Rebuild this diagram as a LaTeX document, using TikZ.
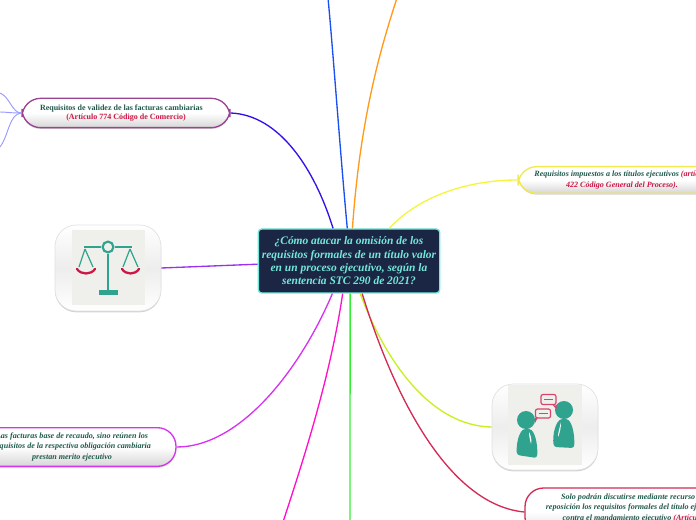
\documentclass[tikz,border=0pt]{standalone}
\usepackage{fontspec}
\setmainfont{Liberation Serif}
\usetikzlibrary{shadows}
\definecolor{rootfill}{HTML}{1B2645}
\definecolor{rootline}{HTML}{74E8DA}
\definecolor{leafgreen}{HTML}{1F5A4C}
\definecolor{leafred}{HTML}{CC1745}
\definecolor{iconteal}{HTML}{2FA38D}
\definecolor{icongrey}{HTML}{EFEFEC}
\definecolor{rimplum}{HTML}{9C4494}
\definecolor{rimyellow}{HTML}{F2E94E}
\definecolor{rimmagenta}{HTML}{D633F0}
\definecolor{rimred}{HTML}{D42A55}
\definecolor{brblue}{HTML}{1A50F0}
\definecolor{brorange}{HTML}{FF9A1A}
\definecolor{brindigo}{HTML}{3311EE}
\definecolor{bryellow}{HTML}{F5F53C}
\definecolor{brviolet}{HTML}{9B30F0}
\definecolor{brpink}{HTML}{FF10CC}
\definecolor{brgreen}{HTML}{33EE33}
\definecolor{brlime}{HTML}{C8F020}
\definecolor{brpale}{HTML}{9A9AFF}
\tikzset{
  pill/.style={draw=#1,line width=1pt,rounded corners=14pt,top color=white,bottom color=black!16,middle color=white,
    drop shadow={shadow xshift=0pt,shadow yshift=-1pt,opacity=0.35},align=center,inner sep=0pt,
    text=leafgreen,font=\bfseries\itshape\fontsize{6.05}{7.9}\selectfont},
  card/.style={draw=black!12,line width=0.5pt,rounded corners=16pt,top color=white,bottom color=white,middle color=black!7,
    drop shadow={shadow xshift=0pt,shadow yshift=-1pt,opacity=0.35},minimum width=79.5pt,minimum height=64.5pt,inner sep=0pt},
  link/.style={line width=1pt}
}
\begin{document}
\begin{tikzpicture}[x=0.75pt,y=-0.75pt]
  \useasboundingbox (0,0) rectangle (696,520);
  \clip (0,0) rectangle (696,520);
      \coordinate (TopA) at (328,-2);
        \coordinate (TopB) at (397,-2);
          \coordinate (BotA) at (283,522);
            \coordinate (BotB) at (350,522);
              \coordinate (EdgeA) at (0,93);
                \coordinate (EdgeB) at (0,112);
                  \coordinate (EdgeC) at (0,147);

  % centro
  \node (root) at (349,261)[draw=rootline,fill=rootfill,line width=1pt,rounded corners=2.5pt,minimum width=136pt,minimum height=48pt,
    inner sep=0pt,align=center,text=rootline,font=\bfseries\itshape\fontsize{8.6}{10}\selectfont]
    {¿Cómo atacar la omisión de los\\ requisitos formales de un título valor\\ en un proceso ejecutivo, según la\\ sentencia STC 290 de 2021?};

  % hojas
  \node (validez) at (126,113)[pill=rimplum,minimum width=156pt,minimum height=22pt,font=\bfseries\fontsize{6}{7.1}\selectfont]
    {Requisitos de validez de las facturas cambiarias\hspace*{7pt}\\ \textcolor{leafred}{(Artículo 774 Código de Comercio)}};
  \node (impuestos) at (622,180)[pill=rimyellow,minimum width=156pt,minimum height=20pt]
    {Requisitos impuestos a los títulos ejecutivos \textcolor{leafred}{(artículo}\\ \textcolor{leafred}{422 Código General del Proceso).}};
  \node (recaudo) at (72,447)[pill=rimmagenta,minimum width=156pt,minimum height=29pt]
    {Las facturas base de recaudo, sino reúnen los\\ requisitos de la respectiva obligación cambiaria\\ prestan merito ejecutivo};
  \node (reposicion) at (633,512)[pill=rimred,minimum width=162pt,minimum height=36pt]
    {Solo podrán discutirse mediante recurso de\\ reposición los requisitos formales del título ejecutivo\\ contra el mandamiento ejecutivo \textcolor{leafred}{(Artículo}\hspace*{13.5pt}\\ \mbox{}};

  % tarjetas
  \node (balanza) at (108,268)[card]{};
  \node (personas) at (545,427)[card]{};

  % balanza
  \fill[icongrey] (72,230) rectangle (145,305);
  \draw[iconteal,line width=1.6pt] (108,247) circle (5.4);
  \draw[iconteal,line width=1.5pt] (84,247)--(101,247)(115,247)--(132,247)(108,254)--(108,290);
  \fill[iconteal] (99,290) rectangle (118,295.5);
  \draw[iconteal,line width=0.9pt] (85,249)--(79,267)(85,249)--(93,267)(130,249)--(123,267)(130,249)--(138,267);
  \draw[leafred,line width=1.7pt,line cap=round] (77,269) .. controls (81,275) and (91,275) .. (95,269);
  \draw[leafred,line width=1.7pt,line cap=round] (122,269) .. controls (126,275) and (135,275) .. (139,269);

  % personas
  \fill[icongrey] (508,385) rectangle (582,465);
  \fill[iconteal] (526,420) circle (9);
  \fill[iconteal] (564,410) circle (9);
  \fill[iconteal,rounded corners=2pt] (527,429) .. controls (535,430) and (538,445) .. (537,458) -- (517,455) .. controls (516,445) and (519,430) .. (527,429) -- cycle;
  \fill[iconteal,rounded corners=2pt] (564,419) .. controls (572,420) and (575,435) .. (574,448) -- (554,447) .. controls (552,435) and (556,420) .. (564,419) -- cycle;
  \fill[white] (529,432) .. controls (531,436) and (532,440) .. (531,444) .. controls (530,440) and (529,436) .. (529,432) -- cycle;
  \fill[white] (561,422) .. controls (560,427) and (558,432) .. (558,437) .. controls (560,433) and (561,427) .. (561,422) -- cycle;
  \draw[leafred!80,line width=0.9pt,rounded corners=1.5pt] (541,394.5) rectangle (556,404.5);
  \draw[leafred!80,line width=0.9pt,rounded corners=1.5pt] (535.5,409) rectangle (550.5,418);
  \draw[leafred!80,line width=0.8pt] (553,404.5)--(556,408)--(556,404.5)(537,418)--(535.5,421)--(535.5,418);
  \draw[leafred!80,line width=1pt] (544,399.5)--(553,399.5)(538.5,413.5)--(547.5,413.5);

  % ramas
  \draw[link,brblue] (root.93.6) .. controls (340,150) and (333,50) .. (TopA);
  \draw[link,brorange] (root.84.6) .. controls (360,120) and (380,50) .. (TopB);
  \draw[link,brindigo] (root.116.6) .. controls (315,170) and (280,115) .. (validez.east);
  \draw[link,bryellow] (root.39.4) .. controls (420,195) and (470,180) .. (impuestos.west);
  \draw[link,brviolet] (root.182.5)--(balanza.east);
  \draw[link,rimmagenta] (root.243.4) .. controls (300,370) and (240,447) .. (recaudo.east);
  \draw[link,brpink] (root.259.4) .. controls (330,380) and (300,470) .. (BotA);
  \draw[link,brgreen] (root.272) -- (BotB);
  \draw[link,brlime] (root.289) .. controls (385,360) and (430,426) .. (personas.west);
  \draw[link,rimred] (root.292) .. controls (395,400) and (450,505) .. (reposicion.west);
  \draw[link,brpale,line width=0.7pt] (validez.west) .. controls (12,113) and (10,97) .. (EdgeA);
  \draw[link,brpale,line width=0.7pt] (validez.west) .. controls (10,113) and (6,112) .. (EdgeB);
  \draw[link,brpale,line width=0.7pt] (validez.west) .. controls (9,114) and (9,135) .. (EdgeC);
\end{tikzpicture}
\end{document}
